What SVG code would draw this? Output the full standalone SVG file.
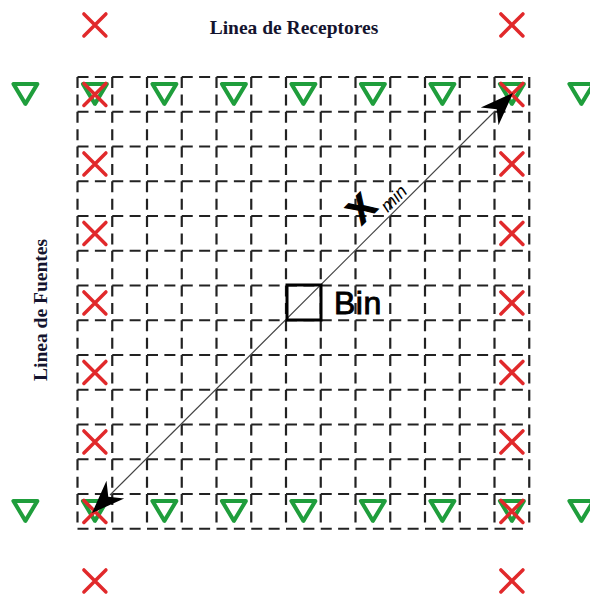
<svg xmlns="http://www.w3.org/2000/svg" width="590" height="595" viewBox="0 0 590 595">
<style>
.g{stroke:#222;stroke-width:2.2;stroke-dasharray:11 6.375;fill:none}
.tri{fill:none;stroke:#1f9e3c;stroke-width:4;stroke-linejoin:round}
.x{stroke:#e1292b;stroke-width:3.5;stroke-linecap:round}
.lbl{font-family:"Liberation Serif","Times New Roman",serif;font-weight:bold;font-size:19.5px;fill:#14142e}
.ah{fill:#000}
</style>
<defs>
<path id="t" class="tri" d="M-12,-10.5 L12,-10.5 L0,9.5 Z"/>
<path id="x" class="x" d="M-11,-11 L11,11 M11,-11 L-11,11"/>
</defs>
<rect width="590" height="595" fill="#fff"/>
<g id="grid">
<path class="g" d="M77.5,77V528.75M112.25,77V528.75M147,77V528.75M181.75,77V528.75M216.5,77V528.75M251.25,77V528.75M286,77V528.75M320.75,77V528.75M355.5,77V528.75M390.25,77V528.75M425,77V528.75M459.75,77V528.75M494.5,77V528.75M529.25,77V528.75"/>
<path class="g" d="M77.5,77H529.25M77.5,111.75H529.25M77.5,146.5H529.25M77.5,181.25H529.25M77.5,216H529.25M77.5,250.75H529.25M77.5,285.5H529.25M77.5,320.25H529.25M77.5,355H529.25M77.5,389.75H529.25M77.5,424.5H529.25M77.5,459.25H529.25M77.5,494H529.25M77.5,528.75H529.25"/>
</g>
<g id="receptores">
<use href="#t" x="25.4" y="94.4"/><use href="#t" x="94.9" y="94.4"/><use href="#t" x="164.4" y="94.4"/><use href="#t" x="233.9" y="94.4"/><use href="#t" x="303.4" y="94.4"/><use href="#t" x="372.9" y="94.4"/><use href="#t" x="442.4" y="94.4"/><use href="#t" x="511.9" y="94.4"/><use href="#t" x="581.4" y="94.4"/>
<use href="#t" x="25.4" y="511.4"/><use href="#t" x="94.9" y="511.4"/><use href="#t" x="164.4" y="511.4"/><use href="#t" x="233.9" y="511.4"/><use href="#t" x="303.4" y="511.4"/><use href="#t" x="372.9" y="511.4"/><use href="#t" x="442.4" y="511.4"/><use href="#t" x="511.9" y="511.4"/><use href="#t" x="581.4" y="511.4"/>
</g>
<g id="fuentes">
<use href="#x" x="94.9" y="24.9"/><use href="#x" x="94.9" y="94.4"/><use href="#x" x="94.9" y="163.9"/><use href="#x" x="94.9" y="233.4"/><use href="#x" x="94.9" y="302.9"/><use href="#x" x="94.9" y="372.4"/><use href="#x" x="94.9" y="441.9"/><use href="#x" x="94.9" y="511.4"/><use href="#x" x="94.9" y="580.9"/>
<use href="#x" x="511.9" y="24.9"/><use href="#x" x="511.9" y="94.4"/><use href="#x" x="511.9" y="163.9"/><use href="#x" x="511.9" y="233.4"/><use href="#x" x="511.9" y="302.9"/><use href="#x" x="511.9" y="372.4"/><use href="#x" x="511.9" y="441.9"/><use href="#x" x="511.9" y="511.4"/><use href="#x" x="511.9" y="580.9"/>
</g>
<g id="connectors">
<line x1="110" y1="495" x2="495" y2="111" stroke="#444" stroke-width="1.1"/>
<path class="ah" transform="translate(513,93) rotate(-45)" d="M0,0 L-33,-12.5 L-23,0 L-33,12.5 Z"/>
<path class="ah" transform="translate(92,513) rotate(135)" d="M0,0 L-33,-12.5 L-23,0 L-33,12.5 Z"/>
</g>
<g id="bin">
<rect x="287" y="285" width="34" height="35" fill="none" stroke="#000" stroke-width="3"/>
<text x="334" y="314" font-family="Liberation Sans,Arial,sans-serif" font-size="32" letter-spacing="0.5" fill="#000" stroke="#000" stroke-width="0.9">Bin</text>
</g>
<g id="xmin" transform="translate(380,225) rotate(-45)">
<text x="-13.5" y="-12.5" font-family="Liberation Sans,Arial,sans-serif" font-weight="bold" font-size="36" fill="#000" stroke="#000" stroke-width="1.2">X</text>
<text x="14" y="-3" font-family="Liberation Sans,Arial,sans-serif" font-style="italic" font-size="18" fill="#000">min</text>
</g>
<g id="titulos">
<text class="lbl" x="294" y="34" text-anchor="middle">Linea de Receptores</text>
<text class="lbl" transform="translate(47,310) rotate(-90)" text-anchor="middle">Linea de Fuentes</text>
</g>
</svg>
